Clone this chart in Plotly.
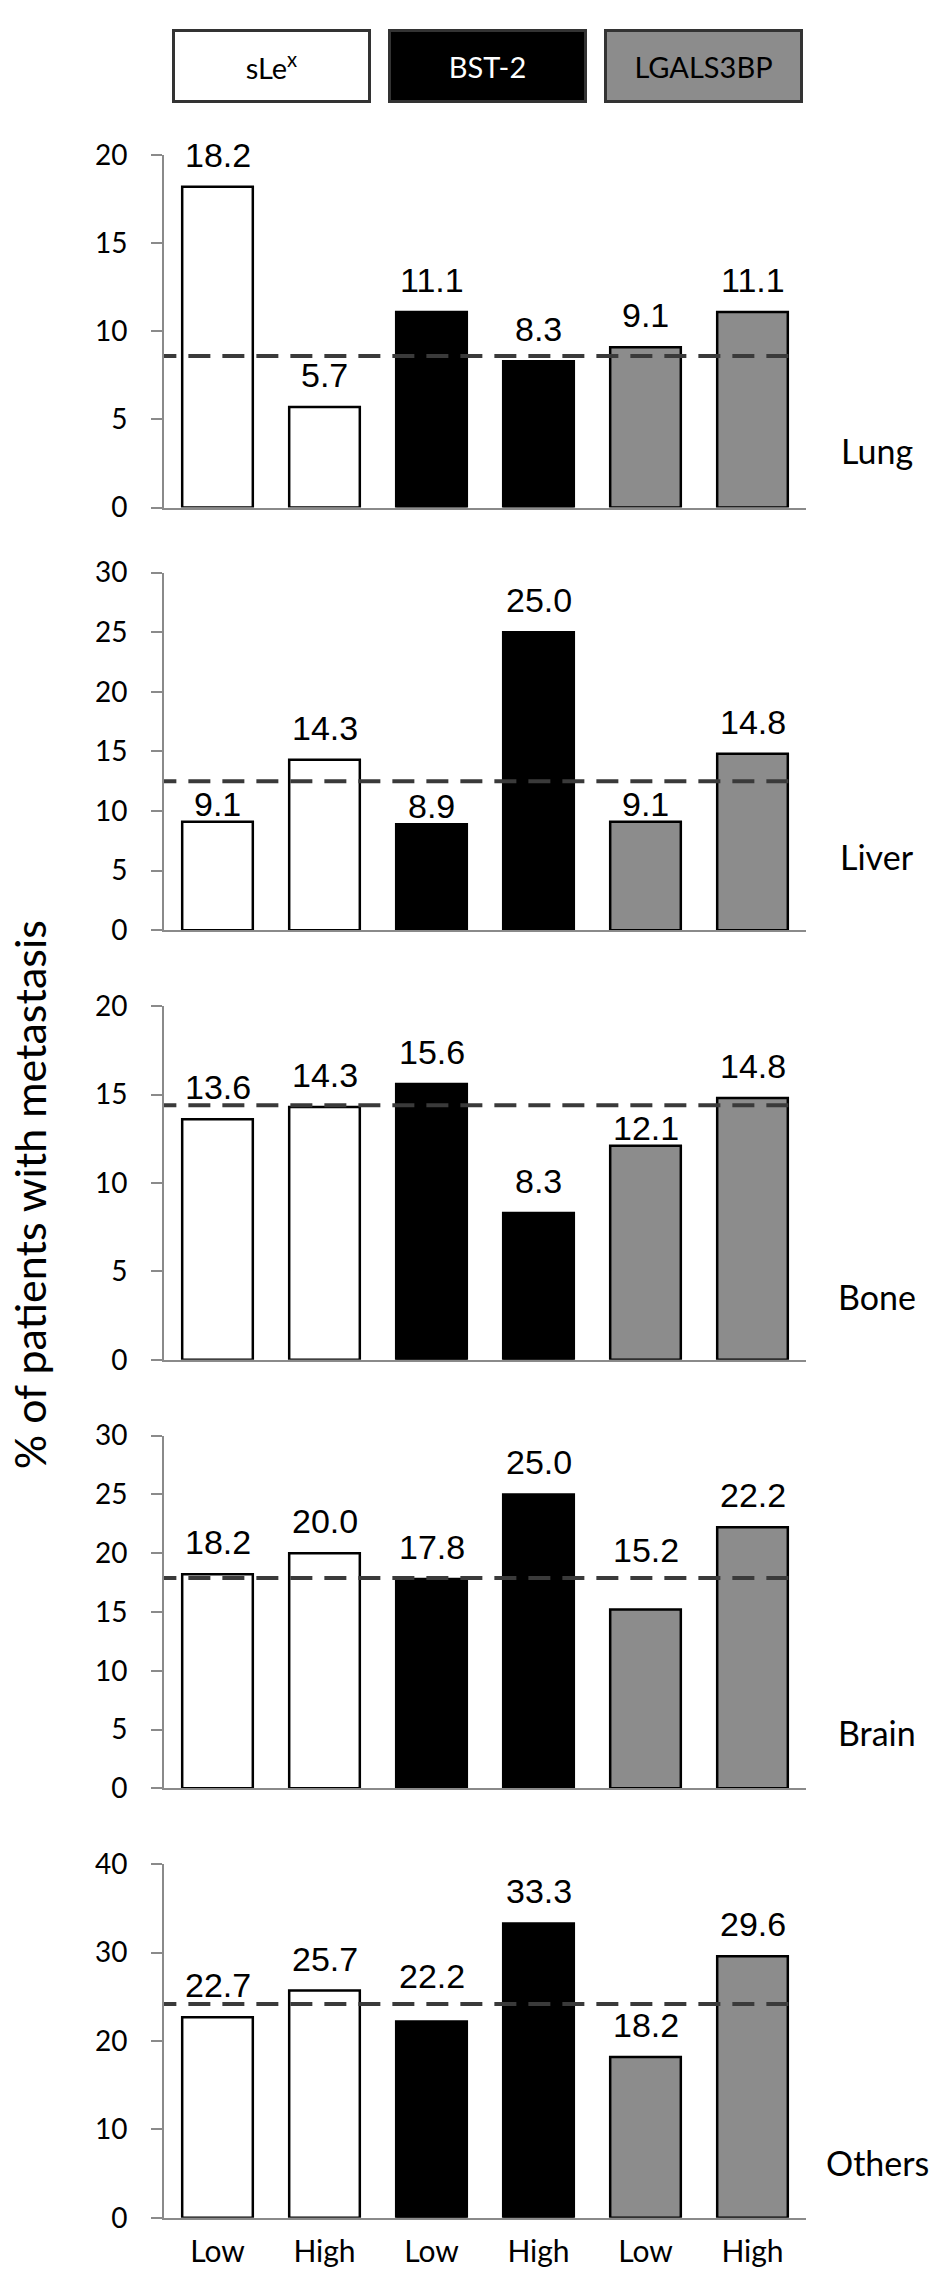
import plotly.graph_objects as go

# ---------------- data ----------------
groups = ["sLe<sup>x</sup>", "BST-2", "LGALS3BP"]
levels = ["Low", "High", "Low", "High", "Low", "High"]
sites = ["Lung", "Liver", "Bone", "Brain", "Others"]
lung = [18.2, 5.7, 11.1, 8.3, 9.1, 11.1]
liver = [9.1, 14.3, 8.9, 25.0, 9.1, 14.8]
bone = [13.6, 14.3, 15.6, 8.3, 12.1, 14.8]
brain = [18.2, 20.0, 17.8, 25.0, 15.2, 22.2]
others = [22.7, 25.7, 22.2, 33.3, 18.2, 29.6]
overall = [8.6, 12.5, 14.4, 17.9, 24.2]   # dashed reference line per site
y_max = [20, 30, 20, 30, 40]
y_step = [5, 5, 5, 5, 10]

values = [lung, liver, bone, brain, others]

# ---------------- styles / layout ----------------
W, H = 945, 2290
group_fill = ["#ffffff", "#000000", "#8c8c8c"]
group_text = ["#000000", "#ffffff", "#000000"]
bar_colors = [group_fill[i // 2] for i in range(6)]
panel_px = [(139, 497), (563, 926), (1003, 1362), (1439, 1797), (1874, 2233)]
site_label_offset = [58, 75, 64, 57, 56]
x_dom = [164 / W, 806 / W]
AXIS_GREY = "#8a8a8a"
TICK_FONT = dict(family="Lato", size=28, color="#000000")
VAL_SIZE = 34
VAL_FONT = dict(family="Liberation Sans", size=VAL_SIZE, color="#000000")
GAP = 19                  # normal px between bar top and label digits
GAP_TIGHT = 5             # squeezed gap when label must fit under dashed line
GAP_LINE = 15             # gap above dashed line when label is lifted over it
DIGIT_H = 0.716 * VAL_SIZE
BOX_BASE = 8              # px from annotation box bottom to text baseline


def py(px):
    return 1 - px / H


fig = go.Figure()
annotations = []
shapes = []
xpos = list(range(len(levels)))

for k, (site, vals) in enumerate(zip(sites, values)):
    n = k + 1
    xa = "x" if n == 1 else f"x{n}"
    ya = "y" if n == 1 else f"y{n}"
    fig.add_trace(go.Bar(
        x=xpos, y=vals, xaxis=xa, yaxis=ya, width=0.66,
        marker=dict(color=bar_colors, line=dict(color="#000000", width=2.5)),
        showlegend=False, hoverinfo="skip",
    ))
    top, bot = panel_px[k]
    last = (k == len(sites) - 1)
    xaxis = dict(
        domain=x_dom, anchor=ya, range=[-0.5, 5.5],
        showticklabels=last, ticks="", showline=True, linecolor=AXIS_GREY,
        linewidth=2, showgrid=False, zeroline=False, fixedrange=True,
    )
    if last:
        xaxis.update(tickvals=xpos, ticktext=levels, ticklabelstandoff=6,
                     tickfont=dict(family="Lato", size=30, color="#000000"))
    fig.layout[f"xaxis{'' if n == 1 else n}"] = xaxis
    fig.layout[f"yaxis{'' if n == 1 else n}"] = dict(
        domain=[py(bot), py(top)], anchor=xa, range=[0, y_max[k]],
        dtick=y_step[k], tick0=0, ticks="outside", ticklen=11, tickwidth=2,
        tickcolor=AXIS_GREY, showline=True, linecolor=AXIS_GREY, linewidth=2,
        showgrid=False, zeroline=False, tickfont=TICK_FONT,
        ticklabelstandoff=18, fixedrange=True,
    )
    # value labels: avoid crossing the dashed line
    ppu = (bot - top) / y_max[k]
    line_px = bot - overall[k] * ppu
    for i, v in enumerate(vals):
        bar_top = bot - v * ppu
        lab_bottom = bar_top - GAP
        lab_top = lab_bottom - DIGIT_H
        anchor_y, shift = v, GAP
        if lab_top - 1.5 <= line_px <= lab_bottom + 1.5:
            if bar_top - GAP_TIGHT - DIGIT_H >= line_px + 6:
                shift = GAP_TIGHT
            else:
                anchor_y, shift = overall[k], GAP_LINE
        annotations.append(dict(
            x=i, y=anchor_y, xref=xa, yref=ya, text=f"{v:.1f}", showarrow=False,
            yanchor="bottom", yshift=shift - BOX_BASE, font=VAL_FONT,
        ))
    # dashed overall line
    shapes.append(dict(
        type="line", xref=xa, yref=ya, x0=-0.59, x1=5.35,
        y0=overall[k], y1=overall[k],
        line=dict(color="#3a3a3a", width=4, dash="22px,12px"),
    ))
    # site label
    annotations.append(dict(
        x=877 / W, y=py(bot - site_label_offset[k]), xref="paper", yref="paper",
        text=site, showarrow=False, xanchor="center", yanchor="middle",
        font=dict(family="Lato", size=34, color="#000000"),
    ))

# legend boxes
legend_cx = [271, 487, 703]
for g, name in enumerate(groups):
    annotations.append(dict(
        x=legend_cx[g] / W, y=py(49), xref="paper", yref="paper",
        text=name, showarrow=False, xanchor="center", yanchor="middle",
        width=193, height=68, bgcolor=group_fill[g], bordercolor="#333333",
        borderwidth=3, borderpad=0, align="center", valign="middle",
        font=dict(family="Lato", size=29, color=group_text[g]),
    ))

# y-axis title
annotations.append(dict(
    x=29 / W, y=py(1195), xref="paper", yref="paper",
    text="% of patients with metastasis", textangle=-90, showarrow=False,
    xanchor="center", yanchor="middle",
    font=dict(family="Lato", size=43, color="#000000"),
))

fig.update_layout(
    width=W, height=H, margin=dict(l=0, r=0, t=0, b=0),
    paper_bgcolor="#ffffff", plot_bgcolor="#ffffff",
    annotations=annotations, shapes=shapes, bargap=0.32,
)

fig.write_html("out.html", config={"displayModeBar": False},
               post_script="document.body.style.margin='0';")
